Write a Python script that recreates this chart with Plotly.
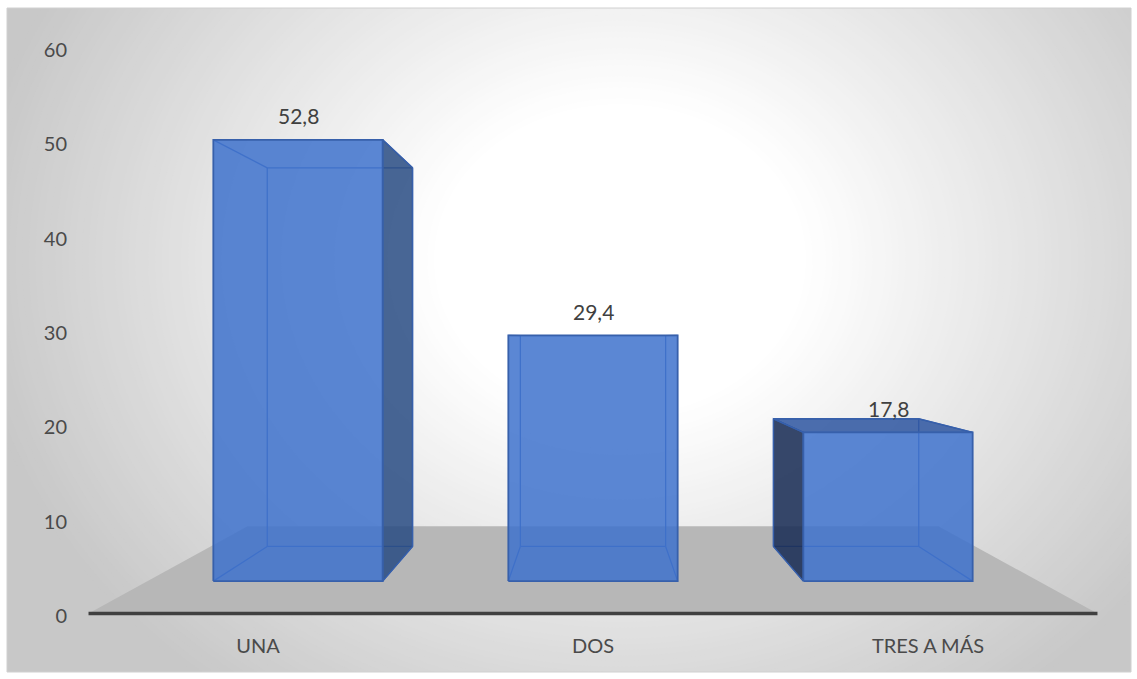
import plotly.graph_objects as go

# ---- data -------------------------------------------------------------
categories = ["UNA", "DOS", "TRES A MÁS"]
values = [52.8, 29.4, 17.8]
y_ticks = [0, 10, 20, 30, 40, 50, 60]

# ---- figure / plot-area geometry (pixels) -----------------------------
W, H = 1137, 679
PL, PR, PT, PB = 80, 1120, 10, 625          # plot area edges
X_CENTER_PX, X_STEP_PX = 593, 335           # category 1 position, category spacing
Y_ZERO_PX, Y_UNIT_PX = 616, 9.433           # value 0 position, pixels per unit

x_range = [1 + (PL - X_CENTER_PX) / X_STEP_PX, 1 + (PR - X_CENTER_PX) / X_STEP_PX]
y_range = [(Y_ZERO_PX - PB) / Y_UNIT_PX, (Y_ZERO_PX - PT) / Y_UNIT_PX]

# ---- simple one-point perspective for the 3-D boxes -------------------
VP_X, VP_Y = 1.0, 29.58      # vanishing point (axis units)
KX, KY = 0.8806, 0.886       # scale of the bars' front plane vs the axis plane
BASE = 3.7                   # floor height in the bars' front plane
F_FRONT, F_BACK = 1.0, 0.858
FLOOR_F_FRONT, FLOOR_F_BACK = 1.1325, 0.7756
FLOOR_X = (-0.51, 2.51)
BAR_HALF = 0.287


def project(xw, v, f):
    x0 = 1 + (xw - 1) * KX
    y0 = BASE + KY * v
    return VP_X + (x0 - VP_X) * f, VP_Y + (y0 - VP_Y) * f


def poly(points):
    xs = [p[0] for p in points] + [points[0][0]]
    ys = [p[1] for p in points] + [points[0][1]]
    return xs, ys


def px_to_paper(px, py):
    return (px - PL) / (PR - PL), (PB - py) / (PB - PT)


fig = go.Figure()

# ---- floor --------------------------------------------------------------
floor_pts = [project(FLOOR_X[0], 0, FLOOR_F_FRONT), project(FLOOR_X[1], 0, FLOOR_F_FRONT),
             project(FLOOR_X[1], 0, FLOOR_F_BACK), project(FLOOR_X[0], 0, FLOOR_F_BACK)]
fx, fy = poly(floor_pts)
fig.add_trace(go.Scatter(x=fx, y=fy, mode="lines", fill="toself", fillcolor="#b7b7b7",
                         line=dict(width=0), hoverinfo="skip", showlegend=False))

# category axis line along the front edge of the floor
a0, a1 = floor_pts[0], floor_pts[1]
fig.add_trace(go.Scatter(x=[a0[0], a1[0]], y=[a0[1], a1[1]], mode="lines",
                         line=dict(color="#404040", width=3.5), hoverinfo="skip",
                         showlegend=False))

# ---- bars -----------------------------------------------------------------
FRONT_FILL = "rgba(62,114,204,0.85)"
SIDE_R_FILL = "rgba(40,75,130,0.85)"
SIDE_L_FILL = "rgba(25,45,85,0.87)"
TOP_FILL = "rgba(45,85,160,0.85)"
EDGE = "#3760ab"
INNER_EDGE = "rgba(50,92,178,0.9)"

annotations = []
for i, (cat, v) in enumerate(zip(categories, values)):
    xl, xr = i - BAR_HALF, i + BAR_HALF
    fbl, fbr = project(xl, 0, F_FRONT), project(xr, 0, F_FRONT)
    ftl, ftr = project(xl, v, F_FRONT), project(xr, v, F_FRONT)
    bbl, bbr = project(xl, 0, F_BACK), project(xr, 0, F_BACK)
    btl, btr = project(xl, v, F_BACK), project(xr, v, F_BACK)

    # hidden edges seen through the translucent faces
    ex, ey = [], []
    for p, q in [(bbl, bbr), (bbr, btr), (btr, btl), (btl, bbl),
                 (fbl, bbl), (fbr, bbr), (ftl, btl), (ftr, btr)]:
        ex += [p[0], q[0], None]
        ey += [p[1], q[1], None]
    fig.add_trace(go.Scatter(x=ex, y=ey, mode="lines", line=dict(color=INNER_EDGE, width=1.3),
                             hoverinfo="skip", showlegend=False))

    # side face visible from outside
    if xr < VP_X and ftr[0] < VP_X:
        sx, sy = poly([fbr, ftr, btr, bbr])
        fig.add_trace(go.Scatter(x=sx, y=sy, mode="lines", fill="toself", fillcolor=SIDE_R_FILL,
                                 line=dict(color=EDGE, width=1.4), hoverinfo="skip",
                                 showlegend=False))
    if xl > VP_X and ftl[0] > VP_X:
        sx, sy = poly([fbl, ftl, btl, bbl])
        fig.add_trace(go.Scatter(x=sx, y=sy, mode="lines", fill="toself", fillcolor=SIDE_L_FILL,
                                 line=dict(color=EDGE, width=1.4), hoverinfo="skip",
                                 showlegend=False))

    # top face, when seen from above
    if ftl[1] < VP_Y - 0.5:
        tx, ty = poly([ftl, ftr, btr, btl])
        fig.add_trace(go.Scatter(x=tx, y=ty, mode="lines", fill="toself", fillcolor=TOP_FILL,
                                 line=dict(color=EDGE, width=1.4), hoverinfo="skip",
                                 showlegend=False))

    # front face
    qx, qy = poly([fbl, fbr, ftr, ftl])
    fig.add_trace(go.Scatter(x=qx, y=qy, mode="lines", fill="toself", fillcolor=FRONT_FILL,
                             line=dict(color=EDGE, width=1.8), hoverinfo="skip",
                             showlegend=False))

    # value label above the bar
    annotations.append(dict(x=(ftl[0] + ftr[0]) / 2, y=ftl[1], xref="x", yref="y",
                            text=f"{v:.1f}".replace(".", ","), showarrow=False,
                            yshift=24, font=dict(size=21, color="#404040")))

# ---- chart-area background: soft radial gradient --------------------------
shapes = []
CX, CY, RX, RY = 620, 260, 620, 520
D_IN, D_OUT = 0.3, 1.05
G_IN, G_OUT = 255, 200
bx0, by0 = px_to_paper(7, 672)
bx1, by1 = px_to_paper(1131, 8)
shapes.append(dict(type="rect", xref="paper", yref="paper", x0=bx0, y0=by0, x1=bx1, y1=by1,
                   fillcolor=f"rgb({G_OUT},{G_OUT},{G_OUT})", line=dict(width=0), layer="below"))
N = 70
for j in range(N + 1):
    d = D_OUT - (D_OUT - D_IN) * j / N
    g = round(G_OUT + (G_IN - G_OUT) * (D_OUT - d) / (D_OUT - D_IN))
    ex0, ey0 = px_to_paper(CX - RX * d, CY + RY * d)
    ex1, ey1 = px_to_paper(CX + RX * d, CY - RY * d)
    shapes.append(dict(type="circle", xref="paper", yref="paper", x0=ex0, y0=ey0, x1=ex1, y1=ey1,
                       fillcolor=f"rgb({g},{g},{g})", line=dict(width=0), layer="below"))

# white margin outside the chart border
for (ax0, ay0, ax1, ay1) in [(-50, -50, 7, H + 50), (1131, -50, W + 50, H + 50),
                             (-50, -50, W + 50, 8), (-50, 672, W + 50, H + 50)]:
    p0 = px_to_paper(ax0, ay1)
    p1 = px_to_paper(ax1, ay0)
    shapes.append(dict(type="rect", xref="paper", yref="paper", x0=p0[0], y0=p0[1],
                       x1=p1[0], y1=p1[1], fillcolor="white", line=dict(width=0), layer="below"))
# chart border
shapes.append(dict(type="rect", xref="paper", yref="paper", x0=bx0, y0=by0, x1=bx1, y1=by1,
                   fillcolor="rgba(0,0,0,0)", line=dict(color="#d0d0d0", width=1), layer="below"))

fig.update_layout(
    width=W, height=H,
    margin=dict(l=PL, r=W - PR, t=PT, b=H - PB, pad=0),
    paper_bgcolor="white", plot_bgcolor="rgba(0,0,0,0)",
    font=dict(family="Lato, 'Open Sans', sans-serif", size=20, color="#4a4a4a"),
    shapes=shapes, annotations=annotations, showlegend=False,
    xaxis=dict(range=x_range, tickvals=list(range(len(categories))), ticktext=categories,
               showgrid=False, zeroline=False, showline=False, ticks="",
               ticklabelstandoff=7, tickfont=dict(size=20, color="#4a4a4a"), fixedrange=True),
    yaxis=dict(range=y_range, tickvals=y_ticks, ticktext=[str(t) for t in y_ticks],
               showgrid=False, zeroline=False, showline=False, ticks="",
               ticklabelstandoff=12, tickfont=dict(size=20, color="#4a4a4a"), fixedrange=True),
)

fig.write_html("out.html")
